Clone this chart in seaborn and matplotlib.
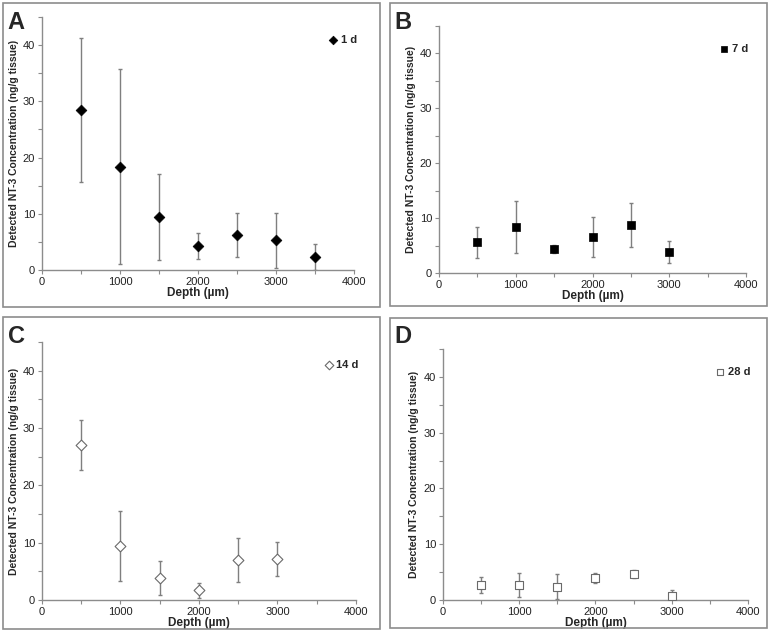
import matplotlib
matplotlib.use('Agg')
import matplotlib.pyplot as plt
import seaborn as sns
import pandas as pd
from matplotlib.patches import Rectangle
from matplotlib.ticker import MultipleLocator

# Depth positions (um)
depth_a = [500, 1000, 1500, 2000, 2500, 3000, 3500]
depth_b = [500, 1000, 1500, 2000, 2500, 3000]

# NT-3 concentration (ng/g tissue) and error
conc_1d = [28.4, 18.4, 9.4, 4.2, 6.3, 5.3, 2.3]
err_1d = [12.8, 17.3, 7.7, 2.3, 3.9, 4.9, 2.3]
conc_7d = [5.6, 8.4, 4.4, 6.6, 8.8, 3.9]
err_7d = [2.8, 4.7, 0.7, 3.6, 4.0, 2.0]
conc_14d = [27.0, 9.4, 3.8, 1.7, 7.0, 7.2]
err_14d = [4.4, 6.1, 3.0, 1.3, 3.9, 3.0]
conc_28d = [2.7, 2.7, 2.4, 3.9, 4.7, 0.8]
err_28d = [1.4, 2.2, 2.3, 0.9, 0.7, 1.0]

sns.set_style('white')
plt.rcParams['font.family'] = ['Liberation Sans', 'DejaVu Sans']

fig = plt.figure(figsize=(7.72, 6.32), dpi=100)

panels = [
    # letter, label, x, y, err, marker, filled, axes rect, box rect
    ('A', '1 d', depth_a, conc_1d, err_1d, 'D', True,
     [0.0544, 0.5728, 0.4041, 0.4002], [0.004, 0.514, 0.488, 0.481]),
    ('B', '7 d', depth_b, conc_7d, err_7d, 's', True,
     [0.5687, 0.5680, 0.3976, 0.3909], [0.505, 0.516, 0.488, 0.479]),
    ('C', '14 d', depth_b, conc_14d, err_14d, 'D', False,
     [0.0544, 0.0506, 0.4067, 0.4083], [0.004, 0.004, 0.488, 0.494]),
    ('D', '28 d', depth_b, conc_28d, err_28d, 's', False,
     [0.5738, 0.0506, 0.3951, 0.3972], [0.505, 0.006, 0.488, 0.491]),
]

for letter, label, xs, ys, es, marker, filled, rect, box in panels:
    fig.patches.append(Rectangle((box[0], box[1]), box[2], box[3],
                                 transform=fig.transFigure, fill=False,
                                 edgecolor='#8c8c8c', linewidth=1.2))
    ax = fig.add_axes(rect)
    df = pd.DataFrame({'depth': xs, 'conc': ys, 'err': es})

    ax.errorbar(df['depth'], df['conc'], yerr=df['err'], fmt='none',
                ecolor='#7f7f7f', elinewidth=1.0, capsize=1.5, capthick=1.0,
                zorder=2)
    size = 30 if marker == 'D' else 34
    if filled:
        sns.scatterplot(data=df, x='depth', y='conc', marker=marker, s=size,
                        color='black', edgecolor='black', linewidth=0.5,
                        label=label, ax=ax, zorder=3)
    else:
        sns.scatterplot(data=df, x='depth', y='conc', marker=marker, s=size,
                        facecolor='white', edgecolor='#6a6a6a', linewidth=0.8,
                        label=label, ax=ax, zorder=3)

    ax.set_xlim(0, 4000)
    ax.set_ylim(0, 45)
    ax.xaxis.set_major_locator(MultipleLocator(1000))
    ax.xaxis.set_minor_locator(MultipleLocator(500))
    ax.set_yticks([0, 10, 20, 30, 40])
    ax.yaxis.set_minor_locator(MultipleLocator(5))
    ax.tick_params(which='both', direction='out', length=3, width=0.8,
                   color='#8c8c8c', labelsize=8, labelcolor='#222222',
                   bottom=True, left=True, pad=2)
    for s in ['top', 'right']:
        ax.spines[s].set_visible(False)
    for s in ['left', 'bottom']:
        ax.spines[s].set_color('#8c8c8c')
        ax.spines[s].set_linewidth(1.0)

    ax.set_xlabel('Depth (\u00b5m)', fontsize=8.5, fontweight='bold', labelpad=0)
    ax.set_ylabel('Detected NT-3 Concentration (ng/g tissue)', fontsize=7.5,
                  fontweight='bold', labelpad=3)

    ax.legend(loc='upper right', bbox_to_anchor=(1.03, 0.955), frameon=False,
              handletextpad=-0.3, markerscale=0.8, borderaxespad=0.2,
              prop={'weight': 'bold', 'size': 8})

    fig.text(box[0] + 0.006, box[1] + box[3] - 0.012, letter, fontsize=17,
             fontweight='bold', va='top', ha='left')

fig.savefig('out.png', dpi=100)
